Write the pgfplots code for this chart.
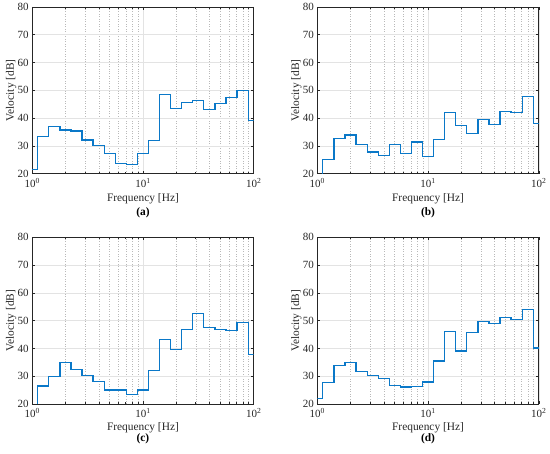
\documentclass[border=0pt]{standalone}
\usepackage{pgfplots}
\usepackage{pgfplotstable}
\pgfplotsset{compat=1.18}
\usepackage{fontspec}
\setmainfont{Liberation Serif}
\definecolor{mblue}{RGB}{10,120,200}
\definecolor{axgray}{RGB}{38,38,38}

\pgfplotstableread{
f a b c d
1.000 21.4 15.0 15.0 21.9
1.122 33.5 25.0 26.5 27.8
1.413 37.0 32.6 30.0 33.8
1.778 35.7 33.9 35.0 34.9
2.239 35.4 30.5 32.5 31.6
2.818 32.1 27.8 30.2 30.2
3.548 30.2 26.6 28.1 29.2
4.467 27.3 30.6 25.0 26.6
5.623 23.8 27.2 25.0 26.1
7.079 23.3 31.4 23.3 26.4
8.913 27.2 26.2 25.0 27.9
11.22 32.0 32.4 32.0 35.5
14.13 48.6 42.0 43.1 46.0
17.78 43.5 37.4 39.5 39.1
22.39 45.7 34.4 46.8 45.7
28.18 46.3 39.5 52.5 49.6
35.48 43.2 37.7 47.6 49.1
44.67 45.4 42.3 46.8 51.1
56.23 47.5 42.0 46.5 50.4
70.79 49.9 47.8 49.3 54.0
89.13 39.1 38.0 37.9 40.2
100.0 39.1 38.0 37.9 40.2
}\bands

\pgfplotsset{
  mypanel/.style={
    scale only axis,
    width=221.5bp, height=166.7bp,
    xmin=1, xmax=100, ymin=20, ymax=80,
    ytick={20,30,...,80},
    xtick={1,10,100},
    xticklabels={10\textsuperscript{0},10\textsuperscript{1},10\textsuperscript{2}},
    minor xtick={2,3,4,5,6,7,8,9,20,30,40,50,60,70,80,90},
    /pgf/number format/assume math mode=true,
    tick align=inside,
    tick pos=both,
    major tick length=3bp,
    minor tick length=1.8bp,
    tick style={color=axgray, line width=0.6bp},
    axis line style={axgray, line width=0.7bp},
    grid=both,
    major grid style={gray!22, line width=0.6bp, solid},
    minor grid style={gray!55, line width=0.5bp, dotted},
    ticklabel style={font=\fontsize{11bp}{13bp}\selectfont, text=axgray},
    xticklabel style={yshift=-1bp},
    clip mode=individual,
  },
}

\begin{document}
\begin{tikzpicture}
\path[use as bounding box] (0bp,0bp) rectangle (550bp,454bp);

\begin{axis}[xmode=log, mypanel, at={(32.2bp,280.3bp)}, anchor=south west, name=pa]
\addplot[const plot, color=mblue, draw=mblue, line width=1.25bp, mark=none] table[x=f, y=a] {\bands};
\end{axis}

\begin{axis}[xmode=log, mypanel, at={(317.3bp,280.3bp)}, anchor=south west, name=pb]
\addplot[const plot, color=mblue, draw=mblue, line width=1.25bp, mark=none] table[x=f, y=b] {\bands};
\end{axis}

\begin{axis}[xmode=log, mypanel, at={(32.2bp,50bp)}, anchor=south west, name=pc]
\addplot[const plot, color=mblue, draw=mblue, line width=1.25bp, mark=none] table[x=f, y=c] {\bands};
\end{axis}

\begin{axis}[xmode=log, mypanel, at={(317.3bp,50bp)}, anchor=south west, name=pd]
\addplot[const plot, color=mblue, draw=mblue, line width=1.25bp, mark=none] table[x=f, y=d] {\bands};
\end{axis}

\foreach \p in {pa,pb,pc,pd}{
  \node[font=\fontsize{11.4bp}{13bp}\selectfont, text=axgray, rotate=90, anchor=center] at ([xshift=-21bp]\p.west) {Velocity [dB]};
}
\node[font=\fontsize{11.4bp}{13bp}\selectfont, text=axgray] at ([yshift=-25.5bp]pa.south) {Frequency [Hz]};
\node[font=\fontsize{11.4bp}{13bp}\selectfont, text=axgray] at ([yshift=-25.5bp]pb.south) {Frequency [Hz]};
\node[font=\fontsize{11.4bp}{13bp}\selectfont, text=axgray] at ([yshift=-23.5bp]pc.south) {Frequency [Hz]};
\node[font=\fontsize{11.4bp}{13bp}\selectfont, text=axgray] at ([yshift=-23.5bp]pd.south) {Frequency [Hz]};
\node[font=\fontsize{11.4bp}{13bp}\selectfont\bfseries, text=black] at ([yshift=-39.5bp]pa.south) {(a)};
\node[font=\fontsize{11.4bp}{13bp}\selectfont\bfseries, text=black] at ([yshift=-39.5bp]pb.south) {(b)};
\node[font=\fontsize{11.4bp}{13bp}\selectfont\bfseries, text=black] at ([yshift=-35bp]pc.south) {(c)};
\node[font=\fontsize{11.4bp}{13bp}\selectfont\bfseries, text=black] at ([yshift=-35bp]pd.south) {(d)};
\end{tikzpicture}
\end{document}
